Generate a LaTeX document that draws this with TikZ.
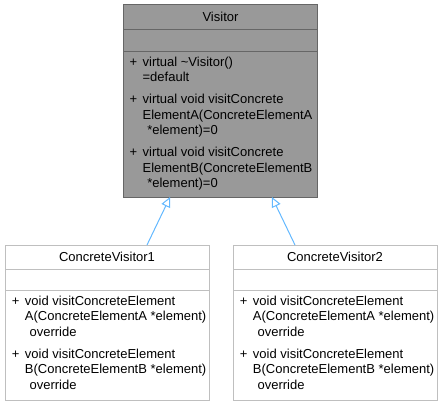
\documentclass[tikz,border=0pt]{standalone}
\usepackage{fontspec}
\setmainfont{Liberation Sans}
\usetikzlibrary{arrows.meta, positioning, calc}
\definecolor{visfill}{HTML}{999999}
\definecolor{visline}{HTML}{666666}
\definecolor{cvline}{HTML}{BFBFBF}
\definecolor{inherit}{HTML}{63B8FF}
\newcommand{\umlfont}{\fontsize{9.75}{11.8}\selectfont}
\newcommand{\op}{\makebox[9.75pt][l]{+}}
\newcommand{\cont}{\hspace*{9.75pt}}
\newcommand{\contsp}{\hspace*{13.25pt}}

\begin{document}
\begin{tikzpicture}[x=0.75pt, y=-0.75pt,
      part/.style={rectangle, draw=cvline, line width=0.75pt, fill=white,
        outer sep=0pt, inner sep=0pt, minimum width=153pt, font=\umlfont},
      cur/.style={draw=visline, fill=visfill, minimum width=145.5pt},
      optext/.style={anchor=north west, inner sep=0pt, align=left,
        font=\umlfont},
      extends/.style={draw=inherit, line width=0.75pt,
        -{Triangle[open, length=7.5pt, width=7pt]}}
    ]
      \useasboundingbox (0,0) rectangle (443,405);

      % base class
      \node[part, cur, minimum height=18.75pt] (vis) at (220.5,16.5) {Visitor};
      \node[part, cur, minimum height=16.5pt, below=0pt of vis] (visattr) {};
      \node[part, cur, minimum height=109.5pt, below=0pt of visattr] (visops) {};
      \node[optext] (visopstext) at ([xshift=4.4pt, yshift=-4.1pt]visops.north west)
        {\op virtual \textasciitilde Visitor()\\
         \cont =default\\[4.3pt]
         \op virtual void visitConcrete\\
         \cont ElementA(ConcreteElementA\\
         \contsp *element)=0\\[4.3pt]
         \op virtual void visitConcrete\\
         \cont ElementB(ConcreteElementB\\
         \contsp *element)=0};

      % derived classes
      \node[part, minimum height=18pt] (cv1) at (107,257) {ConcreteVisitor1};
      \node[part, minimum height=15.75pt, below=0pt of cv1] (cv1attr) {};
      \node[part, minimum height=82.5pt, below=0pt of cv1attr] (cv1ops) {};
      \node[optext] (cv1opstext) at ([xshift=5pt, yshift=-4.1pt]cv1ops.north west)
        {\op void visitConcreteElement\\
         \cont A(ConcreteElementA *element)\\
         \contsp override\\[4.3pt]
         \op void visitConcreteElement\\
         \cont B(ConcreteElementB *element)\\
         \contsp override};

      \node[part, minimum height=18pt] (cv2) at (335,257) {ConcreteVisitor2};
      \node[part, minimum height=15.75pt, below=0pt of cv2] (cv2attr) {};
      \node[part, minimum height=82.5pt, below=0pt of cv2attr] (cv2ops) {};
      \node[optext] (cv2opstext) at ([xshift=5pt, yshift=-4.1pt]cv2ops.north west)
        {\op void visitConcreteElement\\
         \cont A(ConcreteElementA *element)\\
         \contsp override\\[4.3pt]
         \op void visitConcreteElement\\
         \cont B(ConcreteElementB *element)\\
         \contsp override};

      % inheritance
      \draw[extends] ($(cv1.north west)!0.696!(cv1.north east)$)
        -- ($(visops.south west)!0.24!(visops.south east)$);
      \draw[extends] ($(cv2.north west)!0.304!(cv2.north east)$)
        -- ($(visops.south west)!0.765!(visops.south east)$);
    \end{tikzpicture}
\end{document}
